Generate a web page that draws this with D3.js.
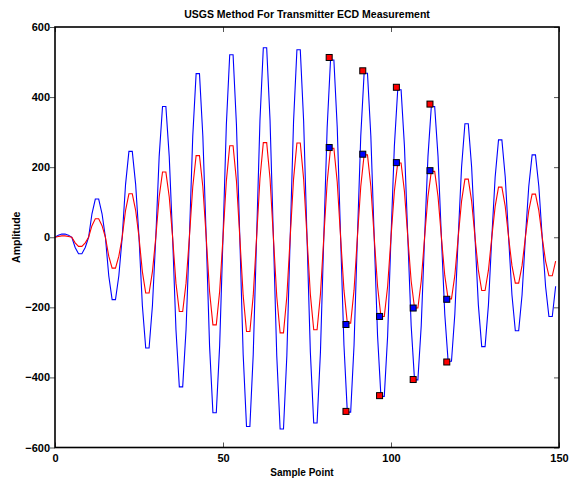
<!DOCTYPE html>
<html>
<head>
<meta charset="utf-8">
<script src="https://d3js.org/d3.v7.min.js"></script>
<style>
  body { margin: 0; background: #fff; }
  text { font-family: "Liberation Sans", Arial, sans-serif; font-weight: bold; }
</style>
</head>
<body>
<script>
// sample values, index = sample point 0..149
let bluePoints = [
  0, 6, 9, 9, 6, 0, -29, -47, -47, -29,
  0, 67, 109, 109, 67, 0, -110, -178, -178, -110,
  0, 151, 245, 245, 151, 0, -195, -316, -316, -195,
  0, 230, 373, 373, 230, 0, -264, -427, -427, -264,
  0, 289, 467, 467, 289, 0, -310, -501, -501, -310,
  0, 322, 521, 521, 322, 0, -334, -540, -540, -334,
  0, 334, 541, 541, 334, 0, -338, -547, -547, -338,
  0, 331, 535, 535, 331, 0, -328, -530, -530, -328,
  0, 313, 506, 506, 313, 0, -308, -499, -499, -308,
  0, 289, 468, 468, 289, 0, -281, -454, -454, -281,
  0, 260, 421, 421, 260, 0, -252, -407, -407, -252,
  0, 230, 373, 373, 230, 0, -219, -354, -354, -219,
  0, 200, 324, 324, 200, 0, -193, -312, -312, -193,
  0, 172, 278, 278, 172, 0, -165, -267, -267, -165,
  0, 145, 235, 235, 145, 0, -140, -226, -226, -140
];

let redPoints = [
  0, 2, 4, 4, 2, 0, -16, -26, -26, -16,
  0, 33, 53, 53, 33, 0, -54, -88, -88, -54,
  0, 77, 124, 124, 77, 0, -98, -159, -159, -98,
  0, 115, 186, 186, 115, 0, -131, -212, -212, -131,
  0, 144, 233, 233, 144, 0, -155, -250, -250, -155,
  0, 161, 261, 261, 161, 0, -166, -269, -269, -166,
  0, 167, 270, 270, 167, 0, -169, -273, -273, -169,
  0, 166, 269, 269, 166, 0, -163, -264, -264, -163,
  0, 157, 254, 254, 157, 0, -151, -245, -245, -151,
  0, 145, 235, 235, 145, 0, -140, -226, -226, -140,
  0, 131, 212, 212, 131, 0, -125, -202, -202, -125,
  0, 116, 188, 188, 116, 0, -109, -176, -176, -109,
  0, 103, 166, 166, 103, 0, -94, -152, -152, -94,
  0, 88, 143, 143, 88, 0, -81, -131, -131, -81,
  0, 76, 123, 123, 76, 0, -68, -110, -110, -68
];

// picked peaks (ECD measurement points)
let markX = [81.6, 86.6, 91.6, 96.6, 101.6, 106.6, 111.6, 116.6];
let redMarkY = [513, -497, 475, -452, 428, -406, 380, -356];
let blueMarkY = [256, -249, 237, -226, 213, -202, 190, -177];

let xTicks = [0, 50, 100, 150];
let yTicks = [-600, -400, -200, 0, 200, 400, 600];

let titleText = "USGS Method For Transmitter ECD Measurement";
let xLabel = "Sample Point";
let yLabel = "Amplitude";

let canvasW = 571;
let canvasH = 480;
let plotL = 55, plotR = 559, plotT = 27, plotB = 447.5;

let xScale = d3.scaleLinear()
  .domain([0, 150])
  .range([plotL, plotR]);
let yScale = d3.scaleLinear()
  .domain([-600, 600])
  .range([plotB, plotT]);

let svg = d3.select("body")
  .append("svg")
    .attr("width", canvasW)
    .attr("height", canvasH);

let line = d3.line()
  .x((d, i) => xScale(i))
  .y(d => yScale(d));

svg.append("path")
  .datum(bluePoints)
  .attr("fill", "none")
  .attr("stroke", "#0000ff")
  .attr("stroke-width", 1.1)
  .attr("d", line);

svg.append("path")
  .datum(redPoints)
  .attr("fill", "none")
  .attr("stroke", "#ff0000")
  .attr("stroke-width", 1.1)
  .attr("d", line);

// markers: red ones sit on the blue peaks, blue ones on the red peaks
svg.selectAll(".redmark")
  .data(markX)
  .enter()
  .append("rect")
    .attr("class", "redmark")
    .attr("x", (d, i) => xScale(d) - 3)
    .attr("y", (d, i) => yScale(redMarkY[i]) - 3)
    .attr("width", 6)
    .attr("height", 6)
    .attr("fill", "#ff0000")
    .attr("stroke", "#000")
    .attr("stroke-width", 1);

svg.selectAll(".bluemark")
  .data(markX)
  .enter()
  .append("rect")
    .attr("class", "bluemark")
    .attr("x", (d, i) => xScale(d) - 3)
    .attr("y", (d, i) => yScale(blueMarkY[i]) - 3)
    .attr("width", 6)
    .attr("height", 6)
    .attr("fill", "#0000ff")
    .attr("stroke", "#000")
    .attr("stroke-width", 1);

// axes - left ticks point out, the rest point in
const xAxis = svg.append("g")
  .attr("transform", "translate(0," + plotB + ")")
  .call(d3.axisBottom(xScale).tickValues(xTicks).tickSizeInner(-5).tickSizeOuter(0).tickPadding(7));

const xTop = svg.append("g")
  .attr("transform", "translate(0," + plotT + ")")
  .call(d3.axisTop(xScale).tickValues(xTicks).tickSizeInner(-5).tickSizeOuter(0).tickFormat(""));

const yAxis = svg.append("g")
  .attr("transform", "translate(" + plotL + ",0)")
  .call(d3.axisLeft(yScale).tickValues(yTicks).tickSizeInner(5).tickSizeOuter(0).tickPadding(0));

const yRight = svg.append("g")
  .attr("transform", "translate(" + plotR + ",0)")
  .call(d3.axisRight(yScale).tickValues(yTicks).tickSizeInner(-5).tickSizeOuter(0).tickFormat(""));

svg.selectAll(".domain").remove();
svg.selectAll(".tick line").attr("stroke", "#555").attr("stroke-width", 1);
svg.selectAll(".tick text")
  .attr("fill", "#000")
  .attr("font-size", "11px")
  .attr("font-family", "Liberation Sans, Arial, sans-serif");

// frame
svg.append("rect")
  .attr("x", plotL)
  .attr("y", plotT)
  .attr("width", plotR - plotL)
  .attr("height", plotB - plotT)
  .attr("fill", "none")
  .attr("stroke", "#000")
  .attr("stroke-width", 1.6);

svg.append("text")
  .attr("x", (plotL + plotR) / 2)
  .attr("y", 17.5)
  .attr("text-anchor", "middle")
  .attr("font-size", "10.5px")
  .text(titleText);

svg.append("text")
  .attr("x", 302)
  .attr("y", 475.5)
  .attr("text-anchor", "middle")
  .attr("font-size", "10px")
  .text(xLabel);

svg.append("text")
  .attr("text-anchor", "middle")
  .attr("font-size", "10.5px")
  .attr("transform", "translate(19.5," + ((plotT + plotB) / 2) + ") rotate(-90)")
  .text(yLabel);
</script>
</body>
</html>
